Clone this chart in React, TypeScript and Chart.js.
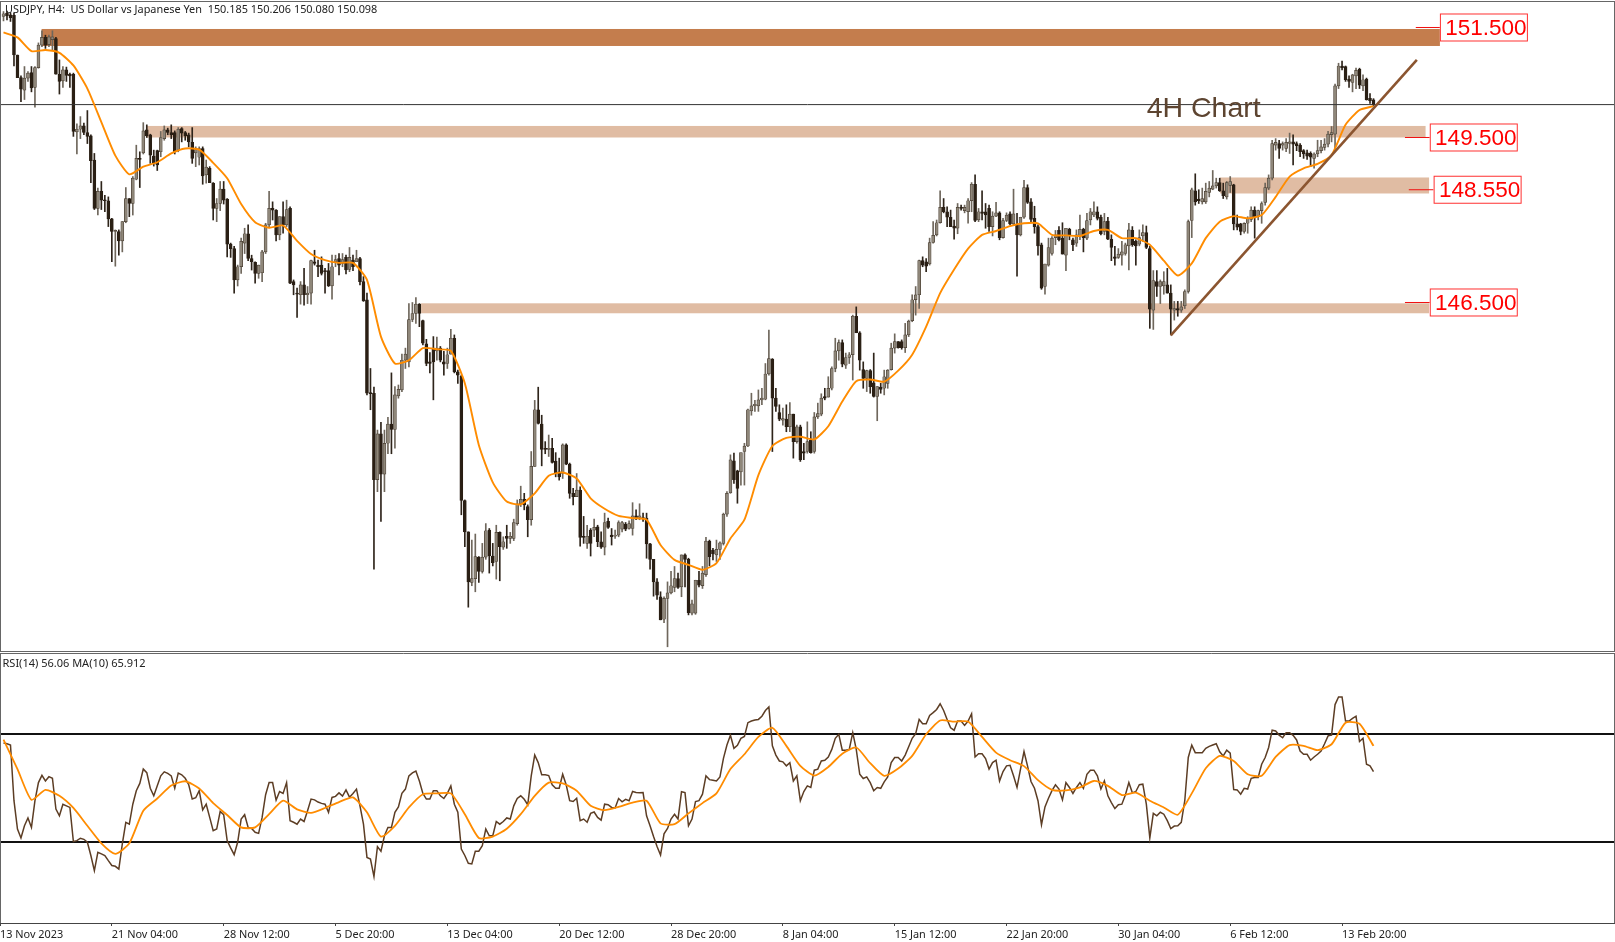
import React, { useEffect, useRef } from "react";
import { Chart, registerables } from "chart.js";

Chart.register(...registerables);

const opens = [151.70,151.76,151.73,151.72,151.00,150.59,150.36,150.58,150.68,150.41,
150.77,151.18,151.32,151.19,151.28,151.30,150.65,150.53,150.73,150.65,
150.65,149.60,149.65,149.71,149.59,149.53,149.09,148.21,148.52,148.36,
148.35,148.02,147.79,147.79,147.62,147.97,148.39,148.30,148.74,149.12,
149.22,149.64,149.55,149.16,149.26,149.24,149.48,149.64,149.59,149.59,
149.27,149.66,149.59,149.55,149.41,149.22,149.14,149.30,148.82,148.94,
148.67,148.21,148.30,148.56,148.38,147.56,147.48,146.91,147.15,147.58,
147.75,147.30,147.23,147.03,147.04,147.42,147.91,148.21,148.18,147.73,
148.06,147.91,148.21,146.88,146.67,146.64,146.82,146.64,146.67,147.24,
147.18,147.18,147.08,147.08,146.80,147.24,147.30,147.21,147.32,147.10,
147.27,147.24,147.30,146.88,146.55,144.86,144.85,143.28,144.11,143.38,
143.94,144.29,144.19,144.80,144.91,145.45,145.42,146.19,146.30,146.47,
146.17,145.75,145.42,145.67,145.62,145.67,145.42,145.39,145.56,145.85,
145.24,145.16,142.90,142.33,141.41,141.48,141.87,141.61,141.87,142.36,
141.89,141.79,142.32,142.05,142.25,142.21,142.21,142.48,142.84,142.92,
142.79,142.55,143.52,144.55,144.29,143.85,143.83,143.85,143.61,143.42,
143.39,143.91,143.56,143.03,142.97,143.09,142.25,142.12,142.36,142.36,
142.42,142.15,142.05,142.52,142.27,142.25,142.27,142.38,142.47,142.39,
142.39,142.62,142.59,142.59,142.58,142.11,141.83,141.42,141.15,140.74,
141.12,141.22,141.32,141.48,141.33,141.91,141.83,140.85,140.85,141.45,
141.35,141.55,142.16,142.00,141.91,142.01,142.12,142.65,143.04,143.62,
143.44,143.42,143.79,143.89,144.53,144.62,144.62,144.73,144.74,145.20,
145.47,144.76,144.50,144.36,144.38,144.24,144.47,143.97,144.24,143.79,
143.79,144.00,143.79,144.42,144.47,144.79,144.78,144.94,145.30,145.62,
145.77,145.36,145.50,145.55,146.25,145.95,145.28,145.12,145.26,145.04,
144.79,144.96,144.94,145.03,145.28,145.67,145.79,145.79,145.68,145.91,
146.17,146.55,146.64,147.26,147.24,147.20,147.59,147.73,147.95,148.23,
148.15,148.05,147.89,147.85,148.23,148.17,148.15,148.35,148.65,148.00,
148.15,148.15,148.21,147.88,148.07,148.13,147.68,147.99,148.11,147.93,
147.91,147.73,148.05,148.59,148.33,148.03,147.88,147.55,146.79,147.18,
147.39,147.68,147.81,147.67,147.36,147.83,147.64,147.58,147.70,147.83,
147.67,148.00,148.09,148.15,148.05,147.79,147.98,147.65,147.33,147.32,
147.36,147.39,147.53,147.81,147.61,147.56,147.71,147.77,147.48,146.36,
146.88,146.79,146.80,146.82,146.67,146.36,146.39,146.36,146.44,146.70,
147.99,148.53,148.38,148.33,148.33,148.50,148.56,148.62,148.68,148.53,
148.42,148.63,148.64,147.93,147.93,147.79,147.94,148.01,148.18,148.07,
148.17,148.32,148.58,148.76,149.36,149.39,149.36,149.30,149.39,149.42,
149.39,149.36,149.26,149.22,149.21,149.12,149.20,149.26,149.32,149.38,
149.55,149.56,150.44,150.80,150.79,150.56,150.50,150.62,150.74,150.44,
150.56,150.21,150.185];

const highs = [151.79,151.80,151.77,151.76,151.00,150.62,150.79,150.70,150.79,150.79,
151.22,151.44,151.36,151.36,151.44,151.32,150.91,150.79,150.78,150.67,
150.67,149.75,149.88,149.76,149.99,149.55,149.21,148.58,148.70,148.45,
148.42,148.03,147.82,147.82,147.97,148.59,148.39,148.79,149.36,149.24,
149.77,149.73,149.56,149.27,149.27,149.61,149.71,149.67,149.73,149.62,
149.68,149.68,149.61,149.58,149.68,149.33,149.33,149.33,149.09,148.97,
148.68,148.39,148.70,148.70,148.39,147.58,147.52,147.18,147.67,147.85,
147.91,147.36,147.24,147.18,147.45,147.94,148.52,148.33,148.19,148.06,
148.33,148.36,148.24,146.91,146.76,146.88,147.12,146.79,147.27,147.45,
147.27,147.33,147.12,147.21,147.36,147.36,147.39,147.39,147.36,147.50,
147.36,147.45,147.32,146.97,146.67,145.30,144.96,144.18,144.32,144.18,
144.41,145.22,144.97,145.00,145.56,145.67,146.48,146.50,146.59,146.48,
146.18,145.83,145.59,145.88,145.87,145.70,145.61,145.67,146.01,145.91,
145.27,145.18,142.91,142.33,142.18,142.29,141.88,142.12,142.48,142.39,
142.12,142.45,142.33,142.24,142.45,142.32,142.56,142.91,143.16,143.03,
142.82,143.79,144.72,144.96,144.45,143.97,144.09,144.03,143.77,143.67,
143.93,143.93,143.58,143.12,143.39,143.15,142.61,142.45,142.39,142.56,
142.45,142.33,142.67,142.58,142.39,142.36,142.53,142.52,142.50,142.53,
142.86,142.73,142.84,142.67,142.67,142.12,141.83,141.48,141.24,141.15,
141.42,141.61,141.70,141.58,141.91,141.93,141.85,141.09,141.45,141.61,
141.70,142.23,142.18,142.03,142.18,142.15,142.67,143.06,143.73,143.76,
143.45,143.76,143.94,144.56,144.85,144.72,144.91,144.94,145.39,146.00,
145.48,144.94,144.64,144.58,144.64,144.68,144.47,144.27,144.27,143.94,
144.33,144.15,144.50,144.67,144.84,144.94,145.15,145.33,145.85,145.82,
145.82,145.58,145.59,146.27,146.42,145.97,145.42,145.27,145.28,145.58,
144.97,145.03,145.27,145.28,145.76,145.93,145.79,145.82,146.12,146.18,
146.64,146.79,147.27,147.33,147.30,147.67,147.97,148.00,148.53,148.39,
148.24,148.18,148.00,148.30,148.27,148.27,148.39,148.68,148.82,148.21,
148.53,148.30,148.27,148.15,148.32,148.15,148.03,148.13,148.15,148.56,
148.12,148.05,148.72,148.64,148.39,148.25,147.91,147.58,147.20,147.67,
147.70,147.81,147.88,147.95,147.85,147.85,147.67,147.82,148.09,147.85,
148.12,148.21,148.33,148.24,148.09,148.12,148.05,147.73,147.52,147.48,
147.61,147.58,147.94,147.88,147.64,147.82,147.91,147.89,147.52,147.08,
147.08,146.91,147.06,147.12,146.82,146.52,146.52,146.52,146.73,148.00,
148.58,148.84,148.55,148.58,148.67,148.70,148.90,148.76,148.76,148.67,
148.70,148.79,148.65,148.09,147.94,147.95,148.06,148.24,148.24,148.18,
148.33,148.67,148.82,149.45,149.48,149.45,149.42,149.48,149.58,149.55,
149.42,149.39,149.28,149.27,149.24,149.22,149.45,149.45,149.48,149.61,
149.70,150.47,150.85,150.89,150.80,150.62,150.65,150.76,150.76,150.64,
150.58,150.30,150.206];

const lows = [151.62,151.64,151.61,150.80,150.59,150.15,150.19,150.52,150.33,150.05,
150.76,151.15,151.12,151.15,151.09,150.65,150.29,150.41,150.52,150.41,
149.52,149.20,149.48,149.55,149.39,148.68,148.19,148.09,148.19,148.15,
147.88,147.24,147.16,147.36,147.42,147.95,148.06,148.09,148.73,148.59,
149.20,149.50,149.03,148.98,148.90,149.15,149.45,149.55,149.48,149.20,
149.24,149.42,149.45,149.33,149.03,148.97,149.00,148.65,148.67,148.68,
148.00,147.97,148.17,148.29,147.33,147.32,146.67,146.80,147.03,147.39,
147.26,147.09,146.85,146.94,146.88,147.39,147.88,148.00,147.62,147.64,
147.76,147.88,146.84,146.64,146.23,146.47,146.45,146.48,146.47,147.18,
146.97,147.00,146.67,146.79,146.56,147.15,147.00,147.15,147.02,147.06,
147.08,147.24,146.82,146.52,144.82,144.55,141.65,143.06,142.52,143.06,
143.75,143.75,143.85,144.76,144.88,145.30,145.33,146.15,146.12,146.06,
145.73,145.35,145.22,144.73,145.45,145.42,145.18,145.30,145.56,145.22,
145.03,142.64,142.06,140.96,141.35,141.24,141.41,141.58,141.83,141.58,
141.71,141.47,141.44,142.01,142.03,142.12,142.17,142.45,142.79,142.73,
142.24,142.45,143.52,144.29,143.53,143.75,143.70,143.58,143.33,143.27,
143.30,143.55,142.94,142.82,142.97,142.07,142.12,142.03,141.89,142.24,
142.06,142.03,141.91,142.39,142.09,142.21,142.24,142.33,142.35,142.38,
142.27,142.55,142.55,142.52,141.85,141.65,141.16,141.10,140.73,140.68,
140.24,141.20,141.24,141.30,141.15,141.33,140.82,140.82,140.83,141.33,
141.30,141.52,141.71,141.82,141.79,141.83,142.09,142.61,143.03,143.21,
142.85,143.18,143.18,143.88,144.45,144.52,144.52,144.64,144.73,145.18,
143.79,144.52,144.35,144.27,144.15,144.15,143.67,143.94,143.61,143.64,
143.76,143.76,143.76,144.39,144.44,144.73,144.78,144.91,145.24,145.45,
145.33,145.30,145.39,145.09,145.95,145.27,144.94,144.88,144.85,144.78,
144.35,144.85,144.82,144.94,145.27,145.58,145.67,145.65,145.59,145.88,
146.15,146.27,146.39,147.15,147.06,147.18,147.58,147.71,147.94,148.13,
147.88,147.88,147.65,147.75,148.18,148.13,147.94,148.15,147.97,147.97,
148.00,147.85,147.79,147.71,148.06,147.64,147.67,147.97,147.91,147.91,
146.98,147.71,148.03,148.30,147.97,147.76,147.36,146.74,146.65,147.16,
147.36,147.55,147.62,147.38,147.08,147.64,147.44,147.52,147.64,147.42,
147.64,147.91,148.06,148.00,147.73,147.73,147.64,147.26,147.18,147.30,
147.18,147.36,147.09,147.52,147.18,147.53,147.61,147.48,146.03,146.01,
146.61,146.48,146.65,146.67,145.91,146.18,146.25,146.32,146.39,146.67,
147.68,148.27,148.30,148.29,148.30,148.42,148.55,148.58,148.52,148.39,
148.38,148.50,147.82,147.82,147.73,147.76,147.76,147.97,147.67,148.00,
147.94,148.27,148.55,148.73,149.27,149.12,149.27,149.24,149.21,149.00,
149.26,149.15,149.12,149.10,148.97,148.94,149.15,149.22,149.27,149.33,
149.42,149.30,150.39,150.73,150.52,150.41,150.33,150.39,150.39,150.35,
150.18,150.12,150.08];

const closes = [151.75,151.71,151.68,151.00,150.59,150.38,150.58,150.67,150.40,150.77,
151.18,151.32,151.18,151.33,151.33,150.65,150.52,150.73,150.63,150.62,
149.61,149.65,149.71,149.59,149.52,149.08,148.21,148.52,148.36,148.35,
148.02,147.79,147.81,147.62,147.97,148.39,148.30,148.76,149.12,149.10,
149.62,149.53,149.18,149.03,149.00,149.50,149.64,149.59,149.55,149.24,
149.65,149.58,149.53,149.42,149.12,149.28,149.30,148.80,148.96,148.68,
148.21,148.30,148.56,148.36,147.56,147.48,146.91,147.15,147.61,147.75,
147.30,147.24,147.03,147.18,147.42,147.91,148.21,148.18,147.73,148.06,
147.91,148.19,146.85,146.82,146.65,146.82,146.64,146.67,147.26,147.21,
147.15,147.03,147.06,146.80,147.15,147.28,147.18,147.28,147.09,147.32,
147.15,147.30,146.88,146.53,144.85,144.84,143.28,144.11,143.38,143.94,
144.29,144.19,144.82,144.92,145.45,145.56,146.19,146.30,146.47,146.30,
145.76,145.39,145.39,145.42,145.67,145.45,145.38,145.55,145.85,145.24,
145.18,142.90,142.33,141.42,141.48,141.88,141.61,141.87,142.35,141.89,
141.77,142.32,142.06,142.15,142.21,142.25,142.50,142.84,142.92,142.82,
142.55,143.52,144.55,144.30,143.83,143.83,143.85,143.59,143.39,143.33,
143.91,143.56,143.03,142.97,143.09,142.23,142.23,142.25,142.12,142.41,
142.15,142.05,142.50,142.41,142.24,142.27,142.50,142.50,142.38,142.48,
142.62,142.58,142.62,142.57,142.11,141.83,141.42,141.18,140.73,141.12,
141.22,141.35,141.48,141.32,141.91,141.83,140.86,141.02,141.45,141.36,
141.58,142.16,141.88,141.93,142.01,142.13,142.65,143.03,143.64,143.28,
143.12,143.77,143.89,144.55,144.62,144.65,144.73,144.76,145.20,145.48,
144.76,144.61,144.38,144.39,144.24,144.47,143.97,144.24,143.64,143.76,
143.97,143.77,144.42,144.48,144.76,144.76,144.94,145.30,145.62,145.77,
145.38,145.50,145.55,146.25,145.95,145.45,145.12,145.26,144.97,144.79,
144.97,144.92,145.15,145.27,145.67,145.79,145.68,145.68,145.91,146.16,
146.55,146.64,147.26,147.18,147.16,147.59,147.72,147.95,148.23,148.15,
148.05,147.88,147.85,148.23,148.21,148.23,148.35,148.65,147.99,148.15,
148.12,148.09,147.88,148.07,148.13,147.68,147.99,148.09,147.93,148.11,
147.73,148.05,148.59,148.32,148.01,147.88,147.53,146.76,147.20,147.50,
147.67,147.73,147.64,147.38,147.85,147.71,147.55,147.73,147.83,147.68,
147.99,148.15,148.15,148.03,147.75,147.97,147.65,147.50,147.30,147.38,
147.42,147.55,147.82,147.55,147.53,147.68,147.77,147.50,146.38,146.90,
146.79,146.88,146.88,146.67,146.38,146.39,146.36,146.42,146.70,147.97,
148.55,148.33,148.35,148.39,148.52,148.58,148.62,148.68,148.53,148.44,
148.68,148.70,147.93,147.87,147.79,147.94,148.03,148.18,148.05,148.17,
148.30,148.59,148.76,149.39,149.41,149.30,149.39,149.41,149.42,149.38,
149.35,149.24,149.20,149.16,149.14,149.20,149.26,149.33,149.38,149.56,
149.59,150.44,150.80,150.77,150.55,150.52,150.64,150.72,150.45,150.55,
150.19,150.17,150.098];

// Orange moving average, read every fourth bar
const maStep = 4;
const maValues = [151.41,151.32,151.07,151.09,151.04,150.81,150.39,149.78,149.17,148.83,148.97,149.05,149.21,149.30,149.28,149.04,148.76,148.29,147.96,147.86,147.90,147.62,147.38,147.27,147.22,147.22,
146.91,145.88,145.39,145.45,145.67,145.65,145.62,145.03,143.91,143.23,142.88,142.83,143.03,143.35,143.41,143.30,142.94,142.75,142.62,142.58,142.55,142.09,141.82,141.73,141.64,141.76,142.21,142.55,143.36,
143.89,144.04,144.06,144.01,144.25,144.70,145.07,145.10,145.06,145.26,145.55,146.06,146.67,147.10,147.48,147.73,147.80,147.89,147.94,147.94,147.73,147.72,147.71,147.80,147.82,147.67,147.67,
147.55,147.26,146.99,147.21,147.67,147.97,148.07,148.03,148.09,148.42,148.79,148.94,149.02,149.18,149.73,150.00,150.07];

const rsiValues = [66.7,66.4,65.9,45.3,34.8,31.5,36.0,38.9,35.4,45.3,
52.0,54.7,52.6,54.2,53.6,42.2,39.7,44.0,43.4,42.8,
30.2,30.5,31.4,31.0,29.9,25.0,19.4,26.2,25.6,25.0,
23.1,21.3,21.0,20.0,29.3,37.3,36.6,44.0,49.0,51.7,
57.0,55.7,49.9,47.1,50.8,54.5,56.0,55.4,54.5,49.9,
55.5,54.9,53.6,51.2,45.9,46.4,49.0,41.9,44.0,39.1,
34.2,34.8,41.3,40.1,30.5,27.8,25.3,29.9,38.5,40.1,
35.4,35.0,33.6,33.2,39.1,47.5,52.0,52.0,45.5,48.7,
48.0,52.0,37.9,37.3,36.6,38.5,37.6,41.6,45.9,45.6,
44.8,44.3,44.0,41.0,46.5,46.9,48.2,47.0,49.3,46.6,
48.0,49.6,43.4,36.6,24.3,23.7,17.2,28.3,26.6,32.3,
35.4,35.4,41.0,43.0,48.0,49.6,54.5,55.6,56.3,52.6,
48.0,45.9,45.9,49.0,49.0,47.1,46.1,48.0,50.8,44.0,
41.0,27.4,25.0,22.1,21.9,26.6,26.6,28.6,34.8,32.3,
32.3,37.6,36.6,37.6,38.9,38.5,43.4,46.1,47.1,45.8,
43.8,54.5,62.2,59.4,54.9,54.9,54.6,51.2,49.9,49.9,
55.1,51.2,45.3,45.0,46.2,37.9,38.5,37.3,40.6,41.1,
39.1,38.1,44.0,43.8,42.8,42.6,46.1,44.9,45.8,45.3,
48.7,48.3,48.2,48.3,39.7,36.0,32.0,28.3,25.2,33.0,
35.0,38.5,40.3,38.5,48.6,48.3,36.0,38.5,45.0,45.3,
47.7,54.5,53.1,52.9,52.6,54.1,61.0,65.9,69.5,64.7,
65.8,68.4,69.1,74.2,74.8,75.2,75.4,76.6,78.7,80.0,
65.6,62.2,60.0,59.7,58.2,59.4,52.6,54.5,45.3,48.7,
50.8,50.2,56.6,57.0,60.0,60.3,61.5,64.3,68.4,69.9,
64.0,64.0,64.3,70.5,64.3,55.1,53.5,54.1,52.0,49.0,
50.2,49.9,52.3,54.1,59.4,61.3,61.3,60.0,62.2,65.3,
68.4,70.1,75.4,73.8,73.8,76.9,77.9,79.1,81.2,78.7,
75.4,72.3,71.4,74.8,74.8,73.2,74.8,77.5,61.5,62.7,
62.7,60.9,57.0,59.4,60.3,52.6,56.1,58.2,58.4,54.5,
50.2,57.0,63.5,58.2,52.4,49.9,45.3,36.4,43.0,46.2,
49.0,51.2,49.6,45.6,52.0,50.2,48.0,50.2,52.0,49.9,
55.1,56.6,56.6,54.5,49.6,52.6,47.1,44.6,42.4,43.8,
44.0,47.4,52.0,48.2,48.7,51.2,51.4,44.0,31.5,40.6,
39.7,41.0,40.3,37.9,35.0,35.9,36.0,37.3,45.3,61.3,
65.9,63.1,63.1,63.1,64.7,65.4,65.9,66.4,63.4,61.9,
64.0,62.9,49.4,49.3,47.7,49.9,49.6,53.6,53.9,53.9,
58.8,61.3,65.0,71.4,71.1,69.6,68.6,70.5,70.5,69.5,
67.8,63.7,62.5,62.5,60.3,61.5,62.5,63.7,66.4,69.3,
69.6,80.9,83.7,83.7,74.8,74.8,75.8,76.6,67.2,68.4,
58.8,58.2,56.06];

// RSI moving average, read every fourth bar
const rsiMaValues = [67.9,57.0,45.6,49.3,47.1,42.6,36.0,29.5,25.6,29.5,41.6,46.1,50.9,52.5,49.8,44.4,40.0,35.4,35.4,40.3,45.3,42.1,40.8,42.6,44.8,46.5,41.0,32.0,36.0,42.8,47.7,48.0,48.0,40.3,31.5,32.0,
34.9,40.3,47.1,52.0,51.7,49.0,43.4,41.8,43.0,44.6,45.3,36.9,36.6,40.6,44.4,48.0,57.0,62.5,68.9,72.3,65.6,58.2,
54.6,57.8,62.7,65.0,59.2,54.5,57.2,61.9,69.9,75.0,74.6,74.6,68.9,63.1,60.3,58.1,52.9,49.3,49.1,50.2,52.6,50.8,
47.4,48.3,45.3,42.8,40.1,48.0,57.3,61.9,60.0,55.1,54.5,61.5,65.9,65.6,64.0,66.2,74.2,73.8,65.6];

const tickBars = [-1,31,63,95,127,159,191,223,255,287,319,351,383];
const tickLabels = ["13 Nov 2023","21 Nov 04:00","28 Nov 12:00","5 Dec 20:00","13 Dec 04:00","20 Dec 12:00","28 Dec 20:00","8 Jan 04:00","15 Jan 12:00","22 Jan 20:00","30 Jan 04:00","6 Feb 12:00","13 Feb 20:00"];

const levelValues = [151.5,149.5,148.55,146.5];
const levelLabels = ["151.500","149.500","148.550","146.500"];
const levelLineStart = [404.1,401,402.1,401];
const levelBoxStart = [411,408.1,409.2,408.1];

const zoneHigh = [151.473,149.71,148.773,146.485];
const zoneLow = [151.164,149.50,148.482,146.304];
const zoneStart = [10.9,41,348.1,119.5];
const zoneEnd = [411,406.9,407.9,407.9];

const trendBars = [334,404.4];
const trendValues = [145.9,150.91];
const bidPrice = 150.098;
const rsiUpper = 70;
const rsiLower = 30;
const xMin = -1;
const xMax = 461.1;

const headerText = "USDJPY, H4:  US Dollar vs Japanese Yen  150.185 150.206 150.080 150.098";
const rsiText = "RSI(14) 56.06 MA(10) 65.912";
const annotationText = "4H Chart";

const UP_FILL = "#8f877a";
const UP_EDGE = "#4a3f33";
const DOWN_FILL = "#2a1f14";
const ORANGE = "#ff8c00";
const BROWN = "#5c3d24";
const SANS = '"Liberation Sans", Arial, sans-serif';
const UI = '"Noto Sans", sans-serif';

const overlayMain = {
  id: "overlayMain",
  beforeDatasetsDraw(chart: any) {
    const { ctx, scales: { x, y } } = chart;
    ctx.save();
    zoneHigh.forEach((h, i) => {
      ctx.fillStyle = i === 0 ? "#c47d4d" : "#e0bca3";
      const l = x.getPixelForValue(zoneStart[i]);
      const r = x.getPixelForValue(zoneEnd[i]);
      const t = y.getPixelForValue(h);
      const b = y.getPixelForValue(zoneLow[i]);
      ctx.fillRect(l, t, r - l, b - t);
    });
    ctx.restore();
  },
  afterDatasetsDraw(chart: any) {
    const { ctx, scales: { x, y } } = chart;
    ctx.save();
    ctx.font = `28.5px ${SANS}`;
    ctx.fillStyle = "#5d4430";
    ctx.textAlign = "left";
    ctx.textBaseline = "alphabetic";
    ctx.fillText(annotationText, x.getPixelForValue(327.1), y.getPixelForValue(149.88));

    levelValues.forEach((v, i) => {
      const py = y.getPixelForValue(v);
      const bx = x.getPixelForValue(levelBoxStart[i]);
      ctx.strokeStyle = "#f01010";
      ctx.lineWidth = 1;
      ctx.beginPath();
      ctx.moveTo(x.getPixelForValue(levelLineStart[i]), py);
      ctx.lineTo(bx, py);
      ctx.stroke();
      ctx.fillStyle = "#ffffff";
      ctx.fillRect(bx, py - 13.5, 87, 27);
      ctx.strokeStyle = "#ff3030";
      ctx.strokeRect(bx + 0.5, py - 13.5, 87, 27);
      ctx.fillStyle = "#ff0000";
      ctx.font = `22.5px ${SANS}`;
      ctx.textAlign = "center";
      ctx.textBaseline = "middle";
      ctx.fillText(levelLabels[i], bx + 46, py + 1);
    });

    ctx.fillStyle = "#222222";
    ctx.font = `10.9px ${UI}`;
    ctx.textAlign = "left";
    ctx.textBaseline = "middle";
    ctx.fillText(headerText, 5, 9.5);

    ctx.strokeStyle = "#666666";
    ctx.lineWidth = 1;
    ctx.strokeRect(0.5, 1.5, chart.width - 1, chart.height - 2);
    ctx.restore();
  },
};

const overlayRsi = {
  id: "overlayRsi",
  afterDatasetsDraw(chart: any) {
    const { ctx, chartArea } = chart;
    ctx.save();
    ctx.fillStyle = "#222222";
    ctx.font = `11px ${UI}`;
    ctx.textAlign = "left";
    ctx.textBaseline = "middle";
    ctx.fillText(rsiText, 2.5, 11);
    ctx.strokeStyle = "#666666";
    ctx.lineWidth = 1;
    ctx.beginPath();
    ctx.moveTo(0.5, 0);
    ctx.lineTo(0.5, chartArea.bottom);
    ctx.moveTo(chart.width - 0.5, 0);
    ctx.lineTo(chart.width - 0.5, chartArea.bottom);
    ctx.moveTo(0, 0.5);
    ctx.lineTo(chart.width, 0.5);
    ctx.stroke();
    ctx.restore();
  },
};

export default function App() {
  const mainRef = useRef<HTMLCanvasElement | null>(null);
  const rsiRef = useRef<HTMLCanvasElement | null>(null);

  useEffect(() => {
    const isUp = (i: number) => closes[i] >= opens[i];
    const main = new Chart(mainRef.current as HTMLCanvasElement, {
      type: "bar",
      data: {
        datasets: [
          {
            type: "line",
            data: maValues.map((v, i) => ({ x: i * maStep, y: v })),
            borderColor: ORANGE,
            borderWidth: 1.9,
            pointRadius: 0,
            tension: 0.2,
            order: 0,
          },
          {
            type: "line",
            data: trendBars.map((b, i) => ({ x: b, y: trendValues[i] })),
            borderColor: "#8b5530",
            borderWidth: 2.6,
            pointRadius: 0,
            order: -1,
          },
          {
            type: "line",
            data: [{ x: xMin, y: bidPrice }, { x: xMax, y: bidPrice }],
            borderColor: "#333333",
            borderWidth: 1,
            pointRadius: 0,
            order: 1,
          },
          {
            type: "bar",
            data: opens.map((o, i) => ({ x: i, y: [o, closes[i]] })),
            backgroundColor: opens.map((_, i) => (isUp(i) ? UP_FILL : DOWN_FILL)),
            borderColor: opens.map((_, i) => (isUp(i) ? UP_EDGE : DOWN_FILL)),
            borderWidth: 0.7,
            borderSkipped: false,
            barThickness: 3,
            minBarLength: 1,
            grouped: false,
            order: 2,
          },
          {
            type: "bar",
            data: highs.map((h, i) => ({ x: i, y: [lows[i], h] })),
            backgroundColor: highs.map((_, i) => (isUp(i) ? "#6f675c" : "#2e241a")),
            barThickness: 1,
            grouped: false,
            order: 3,
          },
        ],
      } as any,
      options: {
        animation: false,
        responsive: false,
        layout: { padding: 0 },
        plugins: { legend: { display: false }, tooltip: { enabled: false } },
        scales: {
          x: { type: "linear", min: xMin, max: xMax, offset: false, display: false },
          y: { type: "linear", min: 140.145, max: 152, display: false },
        },
      } as any,
      plugins: [overlayMain],
    });

    const rsi = new Chart(rsiRef.current as HTMLCanvasElement, {
      type: "line",
      data: {
        datasets: [
          {
            data: rsiMaValues.map((v, i) => ({ x: i * maStep, y: v })),
            borderColor: ORANGE,
            borderWidth: 1.8,
            pointRadius: 0,
            tension: 0.2,
            order: 0,
          },
          {
            data: rsiValues.map((v, i) => ({ x: i, y: v })),
            borderColor: BROWN,
            borderWidth: 1.5,
            pointRadius: 0,
            order: 1,
          },
          {
            data: [{ x: xMin, y: rsiUpper }, { x: xMax, y: rsiUpper }],
            borderColor: "#111111",
            borderWidth: 1.8,
            pointRadius: 0,
            order: 2,
          },
          {
            data: [{ x: xMin, y: rsiLower }, { x: xMax, y: rsiLower }],
            borderColor: "#111111",
            borderWidth: 1.8,
            pointRadius: 0,
            order: 2,
          },
        ],
      } as any,
      options: {
        animation: false,
        responsive: false,
        layout: { padding: 0 },
        plugins: { legend: { display: false }, tooltip: { enabled: false } },
        scales: {
          x: {
            type: "linear",
            min: xMin,
            max: xMax,
            afterBuildTicks(axis: any) {
              axis.ticks = tickBars.map((b) => ({ value: b }));
            },
            afterFit(axis: any) {
              axis.height = 19;
              axis.paddingLeft = 0;
              axis.paddingRight = 0;
            },
            border: { display: true, color: "#444444", width: 1 },
            grid: { drawOnChartArea: false, drawTicks: true, tickLength: 3, color: "#444444" },
            ticks: {
              autoSkip: false,
              maxRotation: 0,
              minRotation: 0,
              align: "start",
              padding: 2,
              color: "#222222",
              font: { family: '"Noto Sans", sans-serif', size: 10.9 },
              callback(value: number) {
                const idx = tickBars.indexOf(value);
                return idx >= 0 ? tickLabels[idx] : "";
              },
            },
          },
          y: { type: "linear", min: 0, max: 100, display: false },
        },
      } as any,
      plugins: [overlayRsi],
    });

    return () => {
      main.destroy();
      rsi.destroy();
    };
  }, []);

  return (
    <div style={{ position: "fixed", left: 0, top: 0, width: 1615, height: 942, background: "#ffffff", overflow: "hidden" }}>
      <canvas ref={mainRef} width={1615} height={652} style={{ position: "absolute", left: 0, top: 0, display: "block" }} />
      <canvas ref={rsiRef} width={1615} height={289} style={{ position: "absolute", left: 0, top: 653, display: "block" }} />
    </div>
  );
}
